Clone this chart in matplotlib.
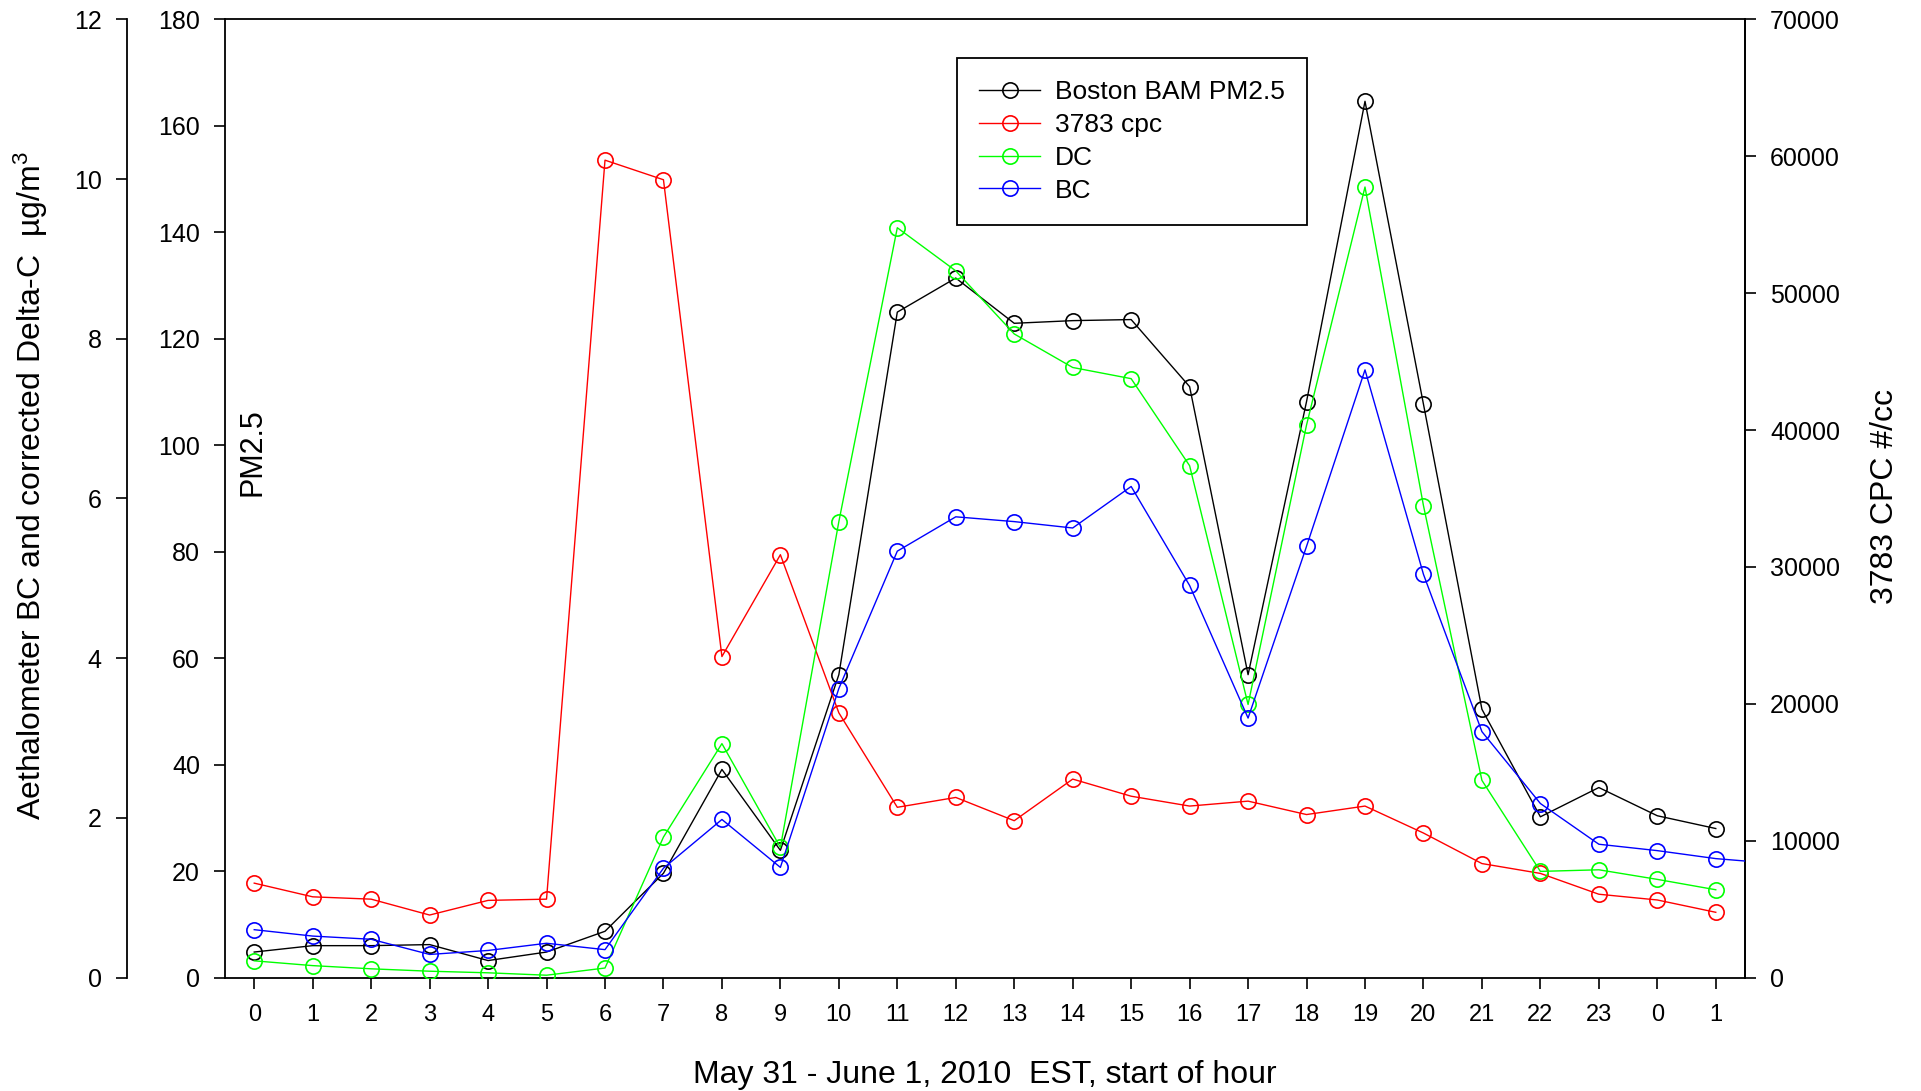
import matplotlib

matplotlib.use("Agg")
import matplotlib.pyplot as plt

plt.rcParams["font.family"] = ["Liberation Sans", "DejaVu Sans"]
plt.rcParams["mathtext.default"] = "regular"

# hour of day, 0 = May 31 00:00 EST ... last two are June 1
hours = [0, 1, 2, 3, 4, 5, 6, 7, 8, 9, 10, 11, 12, 13, 14, 15, 16, 17, 18, 19, 20, 21, 22, 23, 0, 1]
slot = list(range(len(hours)))

bam_pm25 = [4.8, 6.0, 6.0, 6.2, 3.2, 4.8, 8.7, 19.6, 39.1, 23.9, 56.9, 125.0, 131.4, 122.9,
            123.4, 123.6, 111.0, 56.9, 108.2, 164.6, 107.7, 50.4, 30.2, 35.7, 30.4, 28.0]
cpc_3783 = [6900, 5900, 5730, 4570, 5640, 5730, 59710, 58280, 23450, 30890, 19340, 12440, 13160,
            11460, 14500, 13250, 12530, 12890, 11910, 12530, 10560, 8330, 7610, 6090, 5670, 4770]
dc = [0.21, 0.15, 0.11, 0.08, 0.06, 0.03, 0.12, 1.76, 2.93, 1.63, 5.71, 9.39, 8.85, 8.06,
      7.64, 7.50, 6.41, 3.42, 6.92, 9.90, 5.91, 2.47, 1.33, 1.35, 1.23, 1.10]
# BC has one more hour; the line runs off the right edge toward it
bc = [0.60, 0.52, 0.48, 0.29, 0.34, 0.43, 0.35, 1.37, 1.98, 1.38, 3.62, 5.34, 5.77, 5.71,
      5.63, 6.15, 4.91, 3.25, 5.40, 7.61, 5.05, 3.08, 2.18, 1.67, 1.59, 1.49, 1.43]

pm_ticks = list(range(0, 181, 20))
cpc_ticks = list(range(0, 70001, 10000))
bc_ticks = list(range(0, 13, 2))

W, H = 1921, 1091
fig = plt.figure(figsize=(W / 100, H / 100), dpi=100)
fig.patch.set_facecolor("white")

left, right, bottom, top = 225, 1745, 977.6, 19.3
ax = fig.add_axes([left / W, 1 - bottom / H, (right - left) / W, (bottom - top) / H])
ax_cpc = ax.twinx()
ax_bc = ax.twinx()

style = dict(lw=1.0, marker="o", ms=11, mfc="none", mew=1.2)
l_bam, = ax.plot(slot, bam_pm25, color="black", label="Boston BAM PM2.5", **style)
l_cpc, = ax_cpc.plot(slot, cpc_3783, color="#ff0000", label="3783 cpc", **style)
l_dc, = ax_bc.plot(slot, dc, color="#00ff00", label="DC", **style)
l_bc, = ax_bc.plot(list(range(len(bc))), bc, color="#0000ff", label="BC", **style)

spine_w = 1.3
tick_kw = dict(direction="out", length=8, width=1.2, pad=10, labelsize=18)

ax.set_xlim(-0.5, 25.5)
ax.set_ylim(0, 180)
ax.set_yticks(pm_ticks)
ax.set_xticks(slot)
ax.set_xticklabels([str(h) for h in hours])
ax.tick_params(axis="y", **tick_kw)
ax.tick_params(axis="x", direction="out", length=8, width=1.2, pad=11, labelsize=17)
for s in ax.spines.values():
    s.set_linewidth(spine_w)

ax_cpc.set_ylim(0, 70000)
ax_cpc.set_yticks(cpc_ticks)
ax_cpc.tick_params(axis="y", **tick_kw)
for name, s in ax_cpc.spines.items():
    s.set_linewidth(spine_w)
    s.set_visible(name == "right")

ax_bc.set_ylim(0, 12)
ax_bc.set_yticks(bc_ticks)
ax_bc.yaxis.set_ticks_position("left")
ax_bc.yaxis.set_label_position("left")
ax_bc.spines["left"].set_position(("axes", (126.7 - left) / (right - left)))
for name, s in ax_bc.spines.items():
    s.set_linewidth(spine_w)
    s.set_visible(name == "left")
ax_bc.tick_params(axis="y", **tick_kw)

ax_bc.set_xlim(-0.5, 25.5)

ax.text(0.0184, 0.548, "PM2.5", transform=ax.transAxes, rotation=90,
        ha="center", va="center", fontsize=22)

fig.text(985 / W, 1 - 1083 / H, "May 31 - June 1, 2010  EST, start of hour",
         ha="center", va="baseline", fontsize=23)
fig.text(31 / W, 1 - 485.7 / H, r"Aethalometer BC and corrected Delta-C  µg/m$^3$",
         rotation=90, ha="center", va="center", fontsize=23)
fig.text(1885 / W, 1 - 496 / H, "3783 CPC #/cc", rotation=90,
         ha="center", va="center", fontsize=23)

leg = ax_bc.legend(handles=[l_bam, l_cpc, l_dc, l_bc], loc="upper left",
                   bbox_to_anchor=((957 - left) / (right - left), (bottom - 58) / (bottom - top)),
                   borderaxespad=0, fontsize=19, numpoints=1, handlelength=2.3,
                   handletextpad=0.57, labelspacing=0.33, borderpad=0.85,
                   fancybox=False, framealpha=1, edgecolor="black")
leg.get_frame().set_linewidth(1.3)

fig.savefig("out.png", dpi=100, facecolor="white")
